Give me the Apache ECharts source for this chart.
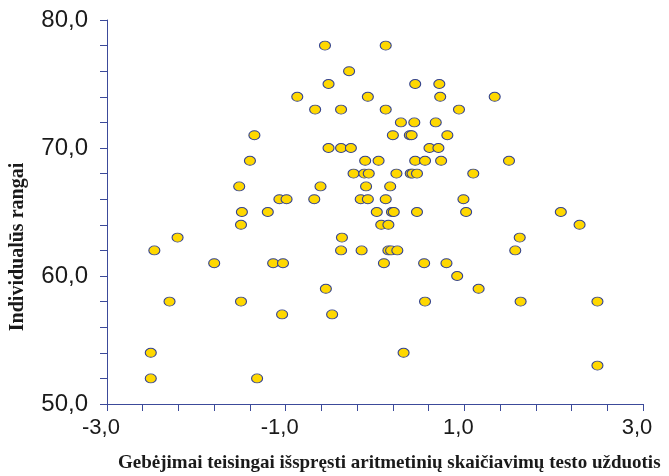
<!DOCTYPE html>
<html>
<head>
<meta charset="utf-8">
<script src="https://cdn.jsdelivr.net/npm/echarts@6/dist/echarts.min.js"></script>
<style>html,body{margin:0;padding:0;background:#fff;}#c{width:669px;height:476px;}</style>
</head>
<body>
<div id="c"></div>
<script>
var xTitle = 'Gebėjimai teisingai išspręsti aritmetinių skaičiavimų testo užduotis';
var yTitle = 'Individualūs rangai';
var xTicks = [-3, -1, 1, 3];
var yTicks = [50, 60, 70, 80];
var xValues = [
  -0.56, 0.12,
  -0.29,
  -0.52, 0.45, 0.72,
  -0.87, -0.08, 0.73, 1.34,
  -0.67, -0.38, 0.12, 0.94,
  0.29, 0.44, 0.68,
  -1.35, 0.20, 0.39, 0.41, 0.81,
  -0.52, -0.38, -0.27, 0.61, 0.71,
  -1.40, -0.11, 0.04, 0.45, 0.56, 0.74, 1.50,
  -0.24, -0.12, -0.07, 0.24, 0.40, 0.42, 0.47, 1.10,
  -1.52, -0.61, -0.10, 0.17,
  -1.07, -0.99, -0.68, -0.16, -0.08, 0.12, 0.99,
  -1.49, -1.20, 0.02, 0.19, 0.21, 0.47, 1.02, 2.08,
  -1.50, 0.07, 0.15, 2.29,
  -2.21, -0.37, 1.62,
  -2.47, -0.38, -0.15, 0.15, 0.18, 0.25, 1.57,
  -1.80, -1.14, -1.03, 0.10, 0.55, 0.80,
  0.92,
  -0.55, 1.16,
  -2.30, -1.50, 0.56, 1.63, 2.49,
  -1.04, -0.48,
  -2.51, 0.32,
  2.49,
  -2.51, -1.32
];
var yValues = [
  78, 78,
  76,
  75, 75, 75,
  74, 74, 74, 74,
  73, 73, 73, 73,
  72, 72, 72,
  71, 71, 71, 71, 71,
  70, 70, 70, 70, 70,
  69, 69, 69, 69, 69, 69, 69,
  68, 68, 68, 68, 68, 68, 68, 68,
  67, 67, 67, 67,
  66, 66, 66, 66, 66, 66, 66,
  65, 65, 65, 65, 65, 65, 65, 65,
  64, 64, 64, 64,
  63, 63, 63,
  62, 62, 62, 62, 62, 62, 62,
  61, 61, 61, 61, 61, 61,
  60,
  59, 59,
  58, 58, 58, 58, 58,
  57, 57,
  54, 54,
  53,
  52, 52
];
var points = xValues.map(function (x, i) { return [x, yValues[i]]; });
var axisColor = '#3C4A9A';
function fmt(v) { return v.toFixed(1).replace('.', ','); }
var chart = echarts.init(document.getElementById('c'), null, {renderer: 'canvas'});
chart.setOption({
  animation: false,
  backgroundColor: '#ffffff',
  grid: {left: 107, right: 26, top: 20, bottom: 72, containLabel: false},
  xAxis: {
    type: 'value', min: xTicks[0], max: xTicks[xTicks.length - 1], interval: 2,
    axisLine: {show: true, onZero: false, lineStyle: {color: axisColor, width: 1}},
    axisTick: {show: true, length: 7, lineStyle: {color: axisColor}},
    minorTick: {show: true, splitNumber: 5, length: 7, lineStyle: {color: axisColor}},
    splitLine: {show: false},
    axisLabel: {color: '#1a1a1a', fontFamily: 'Liberation Sans', fontSize: 22, margin: 13,
                padding: [0, 12, 0, 0], formatter: fmt}
  },
  yAxis: {
    type: 'value', min: yTicks[0], max: yTicks[yTicks.length - 1], interval: 10,
    axisLine: {show: true, onZero: false, lineStyle: {color: axisColor, width: 1}},
    axisTick: {show: true, length: 7, lineStyle: {color: axisColor}},
    minorTick: {show: true, splitNumber: 5, length: 7, lineStyle: {color: axisColor}},
    splitLine: {show: false},
    axisLabel: {color: '#1a1a1a', fontFamily: 'Liberation Sans', fontSize: 24, margin: 19, formatter: fmt}
  },
  graphic: [
    {type: 'text', left: 118, top: 454,
     style: {text: xTitle, fill: '#1a1a1a', font: 'bold 19px "Liberation Serif"'}},
    {type: 'text', x: 18, y: 247, rotation: Math.PI / 2,
     style: {text: yTitle, fill: '#1a1a1a', font: 'bold 20px "Liberation Serif"', align: 'center', verticalAlign: 'middle'}}
  ],
  series: [{
    type: 'scatter',
    data: points,
    symbol: 'circle',
    symbolSize: [11, 9],
    itemStyle: {color: '#FFD800', borderColor: '#34438F', borderWidth: 1, opacity: 1}
  }]
});
</script>
</body>
</html>
